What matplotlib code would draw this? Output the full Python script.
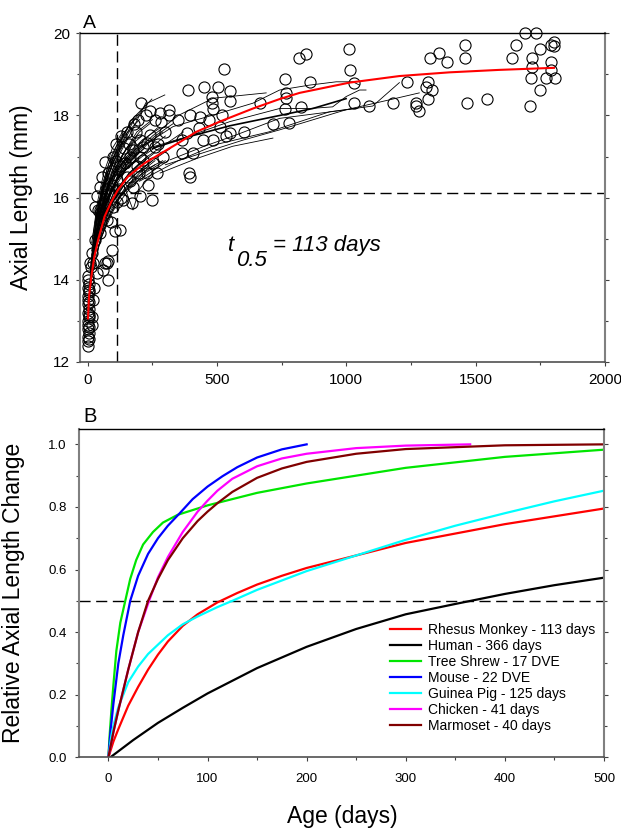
import matplotlib
matplotlib.use('Agg')
import matplotlib.pyplot as plt
from matplotlib.ticker import MultipleLocator

plt.rcParams['font.family'] = ['Liberation Sans', 'DejaVu Sans']

# ---- Panel A data: individual eyes (circles) ----
circ_day = [0, 2, 0, 3, 1, 0, 2, 4, 0, 3, 1, 2, 0, 4, 1, 3, 0, 2, 5, 6, 5, 6, 5,
            8, 12, 18, 15, 20, 25,
            15, 22, 35, 60, 80, 28, 48, 28, 35, 48, 39, 48, 60, 73, 99, 86, 112, 99, 67,
            125, 93, 73, 65, 78, 104, 46,
            55, 80, 95, 110, 130, 150, 165, 90, 115, 70, 180, 200,
            125, 138, 144, 150, 163, 170, 176, 176, 189, 202, 202, 202, 215, 215, 228, 228,
            234, 240, 247, 253, 260, 266, 279, 283, 315, 315, 160, 185, 140, 120, 110, 130,
            195, 240, 270, 290, 300, 205, 225, 260,
            388, 449, 504, 526, 549, 482, 479, 485, 549, 395, 382, 433, 363, 363, 408, 392,
            395, 446, 485, 510, 536, 549, 603, 665, 716, 761, 768, 761, 780, 817, 845, 858,
            826, 768, 430, 470, 520, 350,
            1012, 1015, 1031, 1031, 1086, 1182, 1234, 1269, 1269, 1282, 1308, 1317, 1331,
            1314, 1325, 1359, 1391, 1458, 1458, 1465, 1543, 1642, 1656, 1691, 1732, 1717,
            1719, 1748, 1790, 1803, 1803, 1790, 1790, 1713, 1773, 1807, 1748, 1709]
circ_mm = [12.4, 12.5, 12.6, 12.7, 12.8, 12.9, 13.0, 13.1, 13.2, 13.3, 13.4, 13.5, 13.6,
           13.7, 13.8, 13.9, 14.0, 14.1, 12.55, 12.85, 13.15, 13.45, 13.75,
           14.4, 14.3, 13.1, 12.9, 13.5, 13.8,
           14.65, 14.4, 14.16, 14.24, 14.0, 14.97, 15.14, 15.78, 16.03, 16.27, 15.69, 15.62,
           15.86, 15.46, 15.78, 16.1, 16.43, 17.0, 16.88,
           15.22, 14.73, 14.41, 14.4, 14.45, 15.2, 15.7,
           16.5, 16.6, 16.3, 17.3, 16.0, 17.6, 16.4, 15.4, 15.9, 16.2, 17.8, 16.6,
           16.76, 15.95, 16.84, 16.51, 17.0, 15.87, 16.27, 17.16, 16.76, 16.03, 17.0, 17.4,
           16.92, 17.24, 16.6, 17.32, 16.31, 17.53, 15.95, 16.84, 17.24, 16.6, 18.05, 17.83,
           18.13, 18.0, 17.3, 17.6, 17.2, 16.2, 16.9, 17.5, 17.9, 18.1, 17.3, 17.0, 17.6,
           18.3, 18.0, 17.9,
           18.62, 18.7, 18.7, 19.12, 18.6, 18.46, 18.3, 18.15, 18.35, 18.0, 17.57, 17.97,
           17.4, 17.08, 17.08, 16.6, 16.5, 17.4, 17.4, 17.73, 17.49, 17.57, 17.6, 18.3, 17.8,
           18.9, 18.42, 18.17, 17.81, 19.39, 19.5, 18.81, 18.2, 18.54, 17.7, 17.9, 18.0, 17.9,
           19.61, 19.11, 18.8, 18.31, 18.22, 18.31, 18.82, 18.31, 18.22, 18.11, 18.69, 18.82,
           18.61, 18.41, 19.41, 19.51, 19.31, 19.72, 19.41, 18.31, 18.41, 19.41, 19.72, 20.0,
           20.0, 19.41, 19.19, 19.61, 19.72, 19.8, 19.7, 19.31, 19.11, 18.91, 18.91, 18.91,
           18.62, 18.22]

# longitudinal records of single animals (thin lines)
traj_days = [
    [30, 70, 120, 180, 230, 298],
    [25, 60, 110, 160, 228],
    [35, 80, 130, 190, 250],
    [20, 50, 100, 150, 210],
    [40, 90, 140, 200, 270],
    [15, 45, 90, 140, 190],
    [30, 70, 120, 180, 240, 300],
    [20, 55, 100, 160, 230],
    [45, 90, 140, 200, 260],
    [25, 60, 110, 170, 250, 320],
    [35, 80, 130, 190, 260],
    [50, 100, 160, 220, 300],
    [20, 50, 90, 130, 170],
    [30, 60, 100, 140, 200],
    [15, 40, 75, 110, 160],
    [40, 80, 130, 175],
    [60, 100, 150, 210, 280],
    [70, 120, 170, 240, 310],
    [25, 55, 95, 140, 190],
    [10, 35, 70, 110, 160],
    [60, 110, 140, 175, 200, 250],
    [20, 50, 90, 140, 200, 260],
    [15, 40, 80, 120, 165, 210],
    [45, 95, 150, 200, 240],
    [10, 30, 60, 100, 150, 200],
    [55, 110, 170, 230, 290],
    [35, 75, 120, 165, 200],
    [80, 130, 190, 260, 330],
    [100, 160, 230, 300, 370],
    [5, 20, 45, 80, 120],
    [8, 25, 55, 95, 140, 180],
    [10, 30, 60, 100],
    [12, 35, 70, 120, 170, 248],
    [5, 20, 40, 70, 110],
    [15, 35, 60, 90, 130, 180],
    [20, 40, 65, 100, 150],
    [25, 45, 75, 110, 150, 200],
    [8, 22, 45, 75, 115, 160, 220],
    [30, 55, 85, 120],
    [18, 38, 62, 95, 135],
    [35, 60, 95, 140, 190, 250],
    [12, 28, 50, 80, 120, 170],
    [40, 70, 105, 145, 185],
    [6, 18, 38, 65, 100, 140],
    [22, 42, 70, 105, 150, 210, 280],
    [50, 80, 115, 150, 195],
    [28, 50, 80, 115, 155],
    [15, 30, 50, 75, 110, 150],
    [60, 95, 135, 180, 230, 290],
    [150, 250, 350, 485, 690],
    [200, 330, 485, 639, 742, 858, 961, 1025, 1051],
    [253, 382, 549, 742, 858, 947, 999, 1051, 1076],
    [318, 446, 575, 742, 1038],
    [300, 450, 600, 742, 999, 1166, 1282],
    [280, 420, 560, 716],
    [200, 350, 500, 700, 935, 1102, 1205],
]
traj_mm = [
    [15.3, 16.4, 17.2, 17.9, 18.3, 18.5],
    [15.0, 16.0, 16.9, 17.5, 18.35],
    [15.2, 16.3, 17.0, 17.6, 17.9],
    [14.8, 15.6, 16.6, 17.2, 17.5],
    [15.1, 16.1, 16.8, 17.3, 17.7],
    [14.6, 15.4, 16.2, 16.8, 17.1],
    [14.9, 15.8, 16.5, 16.9, 17.2, 17.5],
    [14.5, 15.3, 16.0, 16.6, 17.0],
    [15.0, 15.8, 16.4, 16.8, 17.1],
    [14.6, 15.4, 16.1, 16.5, 16.9, 17.2],
    [14.7, 15.5, 16.1, 16.5, 16.8],
    [15.0, 15.7, 16.2, 16.6, 16.9],
    [14.9, 15.9, 16.7, 17.3, 17.7],
    [15.4, 16.3, 17.0, 17.5, 17.9],
    [14.9, 15.8, 16.6, 17.1, 17.5],
    [15.5, 16.3, 16.9, 17.3],
    [15.8, 16.3, 16.7, 17.0, 17.3],
    [15.6, 16.0, 16.3, 16.6, 16.9],
    [15.1, 15.9, 16.5, 16.9, 17.2],
    [14.3, 15.2, 15.9, 16.4, 16.8],
    [15.6, 16.0, 16.3, 15.7, 16.2, 16.6],
    [14.2, 15.0, 15.7, 16.2, 16.6, 16.9],
    [14.4, 15.3, 16.0, 16.6, 17.0, 17.3],
    [15.6, 16.6, 17.2, 17.6, 17.8],
    [14.0, 14.8, 15.6, 16.3, 16.8, 17.1],
    [15.4, 16.3, 16.9, 17.3, 17.6],
    [15.6, 16.6, 17.3, 17.8, 18.0],
    [16.0, 16.6, 17.1, 17.5, 17.8],
    [16.1, 16.6, 17.0, 17.3, 17.6],
    [13.6, 14.5, 15.5, 16.3, 16.8],
    [13.9, 14.9, 15.8, 16.6, 17.1, 17.4],
    [14.2, 15.3, 16.2, 16.9],
    [14.4, 15.5, 16.5, 17.3, 17.9, 18.4],
    [13.4, 14.4, 15.2, 15.9, 16.4],
    [14.7, 15.6, 16.4, 17.0, 17.5, 17.9],
    [14.3, 15.0, 15.6, 16.1, 16.5],
    [14.5, 15.2, 15.9, 16.4, 16.7, 17.0],
    [13.7, 14.6, 15.4, 16.0, 16.5, 16.9, 17.2],
    [15.0, 15.8, 16.5, 17.1],
    [15.0, 15.9, 16.6, 17.2, 17.6],
    [14.6, 15.3, 15.9, 16.3, 16.6, 16.9],
    [14.1, 14.9, 15.6, 16.2, 16.7, 17.1],
    [15.2, 15.9, 16.5, 16.9, 17.2],
    [13.8, 14.7, 15.6, 16.3, 16.9, 17.3],
    [14.8, 15.5, 16.1, 16.6, 17.0, 17.4, 17.7],
    [15.3, 15.8, 16.2, 16.5, 16.8],
    [15.4, 16.1, 16.8, 17.3, 17.7],
    [14.2, 14.9, 15.5, 16.1, 16.6, 17.0],
    [15.2, 15.7, 16.1, 16.4, 16.7, 16.9],
    [16.9, 17.5, 18.0, 18.42, 18.55],
    [17.2, 17.73, 18.01, 18.3, 18.62, 18.74, 18.82, 18.82, 18.74],
    [17.24, 17.48, 17.85, 18.17, 18.17, 18.21, 18.46, 18.62, 18.62],
    [16.92, 17.24, 17.53, 17.93, 18.17],
    [16.8, 17.1, 17.4, 17.65, 18.14, 18.38, 18.55],
    [16.6, 16.95, 17.25, 17.45],
    [16.4, 16.9, 17.3, 17.6, 18.09, 18.23, 18.8],
]
bold_days = [250, 400, 550, 742, 870, 999]
bold_mm = [17.2, 17.5, 17.75, 18.0, 18.17, 18.41]

# rhesus growth fit
fit_day = [1, 5, 14, 25, 40, 65, 91, 117, 155, 220, 284, 348, 419, 510, 639, 742, 819,
           1012, 1205, 1398, 1591, 1803]
fit_mm = [13.06, 13.6, 14.08, 14.55, 14.97, 15.54, 15.9, 16.19, 16.51, 16.84, 17.08,
          17.32, 17.6, 17.85, 18.17, 18.4, 18.55, 18.8, 18.96, 19.05, 19.11, 19.16]

# ---- Panel B data: relative axial length change ----
species = ['Rhesus Monkey - 113 days', 'Human - 366 days', 'Tree Shrew - 17 DVE',
           'Mouse - 22 DVE', 'Guinea Pig - 125 days', 'Chicken - 41 days',
           'Marmoset - 40 days']
colors = ['#ff0000', '#000000', '#00e600', '#0000ff', '#00ffff', '#ff00ff', '#800000']

rhesus_d = [0, 2, 5, 10, 20, 30, 40, 50, 60, 75, 90, 110, 130, 150, 175, 200, 250, 300,
            350, 400, 450, 500]
rhesus_v = [0, 0.02, 0.05, 0.09, 0.165, 0.225, 0.28, 0.328, 0.37, 0.42, 0.457, 0.495,
            0.525, 0.552, 0.58, 0.605, 0.645, 0.685, 0.715, 0.745, 0.77, 0.795]
human_d = [2, 25, 50, 75, 100, 150, 200, 250, 300, 350, 400, 450, 500]
human_v = [0, 0.055, 0.11, 0.158, 0.204, 0.285, 0.353, 0.41, 0.457, 0.49, 0.522, 0.55, 0.574]
shrew_d = [0, 1, 3, 5, 8, 12, 17, 22, 28, 35, 45, 55, 70, 85, 100, 150, 200, 300, 400, 500]
shrew_v = [0, 0.06, 0.15, 0.23, 0.34, 0.43, 0.5, 0.57, 0.63, 0.68, 0.72, 0.75, 0.775,
           0.79, 0.805, 0.845, 0.875, 0.925, 0.96, 0.983]
mouse_d = [0, 2, 5, 10, 15, 22, 30, 40, 50, 60, 72, 85, 100, 115, 130, 150, 175, 200]
mouse_v = [0, 0.08, 0.17, 0.3, 0.39, 0.5, 0.58, 0.65, 0.7, 0.74, 0.78, 0.825, 0.865,
           0.898, 0.927, 0.958, 0.984, 1.0]
guinea_d = [0, 3, 5, 10, 20, 30, 40, 50, 60, 75, 90, 110, 125, 150, 175, 200, 250, 300,
            350, 400, 450, 500]
guinea_v = [0, 0.07, 0.1, 0.16, 0.24, 0.29, 0.33, 0.36, 0.39, 0.425, 0.45, 0.48, 0.5,
            0.535, 0.565, 0.595, 0.645, 0.695, 0.74, 0.78, 0.818, 0.852]
chicken_d = [0, 5, 10, 20, 30, 41, 50, 60, 75, 90, 100, 110, 125, 150, 175, 200, 250, 300, 365]
chicken_v = [0, 0.08, 0.15, 0.28, 0.4, 0.5, 0.575, 0.64, 0.72, 0.785, 0.82, 0.852, 0.89,
             0.93, 0.955, 0.97, 0.988, 0.996, 1.0]
marmoset_d = [0, 5, 10, 20, 30, 40, 50, 60, 75, 90, 100, 110, 125, 150, 175, 200, 250,
              300, 400, 500]
marmoset_v = [0, 0.08, 0.15, 0.28, 0.4, 0.5, 0.57, 0.63, 0.7, 0.755, 0.785, 0.812, 0.848,
              0.893, 0.923, 0.944, 0.97, 0.985, 0.997, 1.0]

curves_d = [rhesus_d, human_d, shrew_d, mouse_d, guinea_d, chicken_d, marmoset_d]
curves_v = [rhesus_v, human_v, shrew_v, mouse_v, guinea_v, chicken_v, marmoset_v]


def style_axes(ax, size):
    ax.spines['top'].set_color('black')
    ax.spines['top'].set_linewidth(1.0)
    for s in ['left', 'right']:
        ax.spines[s].set_color('#808080')
        ax.spines[s].set_linewidth(1.5)
    ax.spines['bottom'].set_color('#505050')
    ax.spines['bottom'].set_linewidth(1.2)
    ax.tick_params(which='both', direction='out', top=False, right=True,
                   color='#404040', labelsize=size, width=0.8)
    ax.tick_params(which='major', length=3)
    ax.tick_params(which='minor', length=2.2)


fig = plt.figure(figsize=(6.21, 8.31), dpi=100)

# ---- Panel A ----
axA = fig.add_axes([0.1288, 0.5644, 0.8454, 0.3955])
for d, m in zip(traj_days, traj_mm):
    axA.plot(d, m, color='black', lw=0.6, zorder=2)
axA.plot(bold_days, bold_mm, color='black', lw=1.2, zorder=2)
axA.plot(circ_day, circ_mm, 'o', ms=8, mfc='none', mec='black', mew=0.8,
         zorder=3, clip_on=False)
axA.plot(fit_day, fit_mm, color='red', lw=1.5, zorder=4)
axA.axvline(113, color='black', lw=1, dashes=(8, 4), zorder=1)
axA.axhline(16.12, color='black', lw=1, dashes=(8, 4), zorder=1)
axA.set_xlim(-30, 2000)
axA.set_ylim(12, 20)
axA.xaxis.set_major_locator(MultipleLocator(500))
axA.xaxis.set_minor_locator(MultipleLocator(250))
axA.yaxis.set_major_locator(MultipleLocator(2))
axA.yaxis.set_minor_locator(MultipleLocator(1))
style_axes(axA, 11)
axA.tick_params(axis='y', labelright=False, pad=4.3)
axA.tick_params(axis='x', pad=5)
axA.set_ylabel('Axial Length (mm)', fontsize=16.5)
axA.yaxis.set_label_coords(-0.089, 0.5)
axA.text(0.006, 1.015, 'A', transform=axA.transAxes, fontsize=14, ha='left', va='baseline')
# t_0.5 label, subscript kept at full size like the original
axA.text(541, 14.69, 't', fontsize=16, style='italic', va='baseline')
axA.text(575, 14.33, '0.5', fontsize=16, style='italic', va='baseline')
axA.text(715, 14.69, '= 113 days', fontsize=16, style='italic', va='baseline')

# ---- Panel B ----
axB = fig.add_axes([0.1267, 0.0887, 0.8459, 0.3954])
for d, v, c, lab in zip(curves_d, curves_v, colors, species):
    axB.plot(d, v, color=c, lw=1.6, label=lab)
axB.axhline(0.5, color='black', lw=1, dashes=(8, 4), zorder=1)
axB.set_xlim(-30, 500)
axB.set_ylim(0, 1.05)
axB.xaxis.set_major_locator(MultipleLocator(100))
axB.xaxis.set_minor_locator(MultipleLocator(50))
axB.yaxis.set_minor_locator(MultipleLocator(0.1))
axB.set_yticks([0, 0.2, 0.4, 0.6, 0.8, 1.0])
axB.set_yticklabels(['0.0', '0.2', '0.4', '0.6', '0.8', '1.0'])
style_axes(axB, 9.5)
axB.tick_params(axis='y', labelright=False, pad=5.8)
axB.tick_params(axis='x', pad=8.2)
axB.set_ylabel('Relative Axial Length Change', fontsize=16.5)
axB.yaxis.set_label_coords(-0.102, 0.5)
axB.set_xlabel('Age (days)', fontsize=16.5, va='top')
axB.xaxis.set_label_coords(0.501, -0.145)
axB.text(0.008, 1.021, 'B', transform=axB.transAxes, fontsize=14.5, ha='left', va='baseline')
axB.legend(loc='upper left', bbox_to_anchor=(0.593, 0.41), frameon=False, fontsize=10,
           handlelength=2.2, handletextpad=0.55, labelspacing=0.15, borderpad=0,
           borderaxespad=0)

fig.savefig('out.png', dpi=100)
